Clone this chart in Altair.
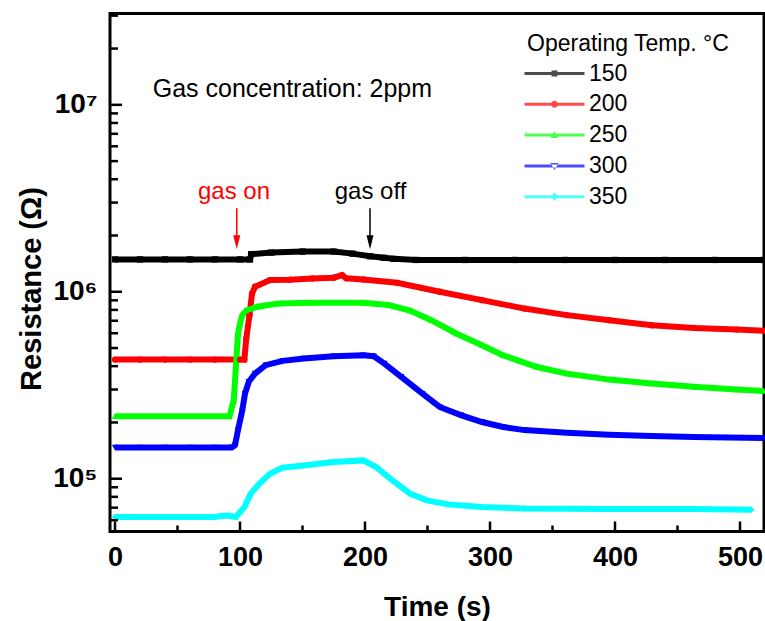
import altair as alt
import pandas as pd

# ---------------- data ----------------
temps = ["150", "200", "250", "300", "350"]
colors = ["#000000", "#ff0000", "#00ff00", "#0000ff", "#00ffff"]
shapes = ["square", "circle", "triangle-up", "triangle-down", "diamond"]

t_150 = [0, 20, 40, 60, 80, 100, 108, 109, 125, 150, 175, 190, 204, 215, 223, 241, 280, 320, 360, 400, 440, 480, 519]
r_150 = [1.49e6, 1.49e6, 1.49e6, 1.49e6, 1.49e6, 1.49e6, 1.49e6, 1.59e6, 1.62e6, 1.64e6, 1.64e6, 1.60e6, 1.55e6,
         1.52e6, 1.50e6, 1.48e6, 1.48e6, 1.48e6, 1.48e6, 1.48e6, 1.48e6, 1.48e6, 1.48e6]

t_200 = [0, 20, 40, 60, 80, 100, 103.5, 105, 107.6, 109.6, 112, 124, 140, 158, 175, 181.6, 185, 198.6, 225.7,
         259.7, 293.6, 327.6, 361.5, 395.5, 429.4, 463.3, 497.3, 519]
r_200 = [4.34e5, 4.34e5, 4.34e5, 4.34e5, 4.34e5, 4.34e5, 4.34e5, 5.62e5, 7.5e5, 9.77e5, 1.064e6, 1.155e6, 1.161e6,
         1.178e6, 1.189e6, 1.227e6, 1.18e6, 1.164e6, 1.117e6, 1.0e6, 9.02e5, 8.13e5, 7.5e5, 7.05e5, 6.62e5, 6.41e5,
         6.28e5, 6.18e5]

t_250 = [0, 20, 40, 60, 80, 91.6, 95, 96.7, 98.4, 100, 101.8, 105, 113.7, 130.7, 158, 198.6, 219, 236, 253, 273,
         293.6, 310.6, 337.7, 361.5, 395.5, 429.4, 463, 497, 519]
r_250 = [2.16e5, 2.16e5, 2.16e5, 2.16e5, 2.16e5, 2.16e5, 2.63e5, 3.96e5, 5.98e5, 6.76e5, 7.5e5, 7.94e5, 8.32e5,
         8.66e5, 8.73e5, 8.73e5, 8.49e5, 7.94e5, 7.05e5, 5.98e5, 5.18e5, 4.57e5, 3.96e5, 3.65e5, 3.39e5, 3.23e5,
         3.1e5, 3.0e5, 2.95e5]

t_300 = [0, 20, 40, 60, 80, 93.4, 96, 98.4, 101.8, 104, 107, 112, 120.5, 134, 151, 174.8, 198.6, 207, 215.5, 229,
         246, 259.7, 276.6, 293.6, 310.6, 327.6, 361.5, 395.5, 429, 463, 519]
r_300 = [1.47e5, 1.47e5, 1.47e5, 1.47e5, 1.47e5, 1.47e5, 1.51e5, 1.82e5, 2.32e5, 2.85e5, 3.3e5, 3.65e5, 4.05e5,
         4.27e5, 4.4e5, 4.52e5, 4.57e5, 4.52e5, 4.13e5, 3.51e5, 2.85e5, 2.42e5, 2.19e5, 2.01e5, 1.89e5, 1.82e5,
         1.76e5, 1.72e5, 1.69e5, 1.67e5, 1.65e5]

t_350 = [0, 20, 40, 60, 80, 85, 90, 96.7, 103.5, 108.6, 115.4, 124, 134, 151, 174.8, 198.6, 208.8, 222, 236, 249.5,
         266.5, 293.6, 327.6, 395.5, 463, 509]
r_350 = [6.24e4, 6.24e4, 6.24e4, 6.24e4, 6.24e4, 6.31e4, 6.35e4, 6.24e4, 7.05e4, 8.32e4, 9.4e4, 1.064e5, 1.146e5,
         1.178e5, 1.227e5, 1.253e5, 1.155e5, 9.8e4, 8.32e4, 7.66e4, 7.29e4, 7.05e4, 6.93e4, 6.89e4, 6.89e4, 6.82e4]

x_major = [0, 100, 200, 300, 400, 500]
x_minor = [50, 150, 250, 350, 450]
y_major = [1e5, 1e6, 1e7]
y_minor = [6e4, 7e4, 8e4, 9e4, 2e5, 3e5, 4e5, 5e5, 6e5, 7e5, 8e5, 9e5,
           2e6, 3e6, 4e6, 5e6, 6e6, 7e6, 8e6, 9e6, 2e7, 3e7]

ann_text = ["Gas concentration: 2ppm", "gas on", "gas off"]
ann_t = [30.2, 95.2, 204.4]
ann_R = [1.104e7, 3.13e6, 3.13e6]
ann_color = ["black", "red", "black"]

arr_t = [97.4, 204.0]
arr_top = [2.8e6, 2.8e6]
arr_head = [1.84e6, 1.84e6]
arr_color = ["red", "black"]

# ---------------- tables ----------------
series = {"150": (t_150, r_150), "200": (t_200, r_200), "250": (t_250, r_250),
          "300": (t_300, r_300), "350": (t_350, r_350)}
rows = []
for name in temps:
    ts, rs = series[name]
    for t, r in zip(ts, rs):
        rows.append({"T": name, "t": t, "R": r})
df = pd.DataFrame(rows)

ann_df = pd.DataFrame({"text": ann_text, "t": ann_t, "R": ann_R, "c": ann_color})
arr_df = pd.DataFrame({"t": arr_t, "top": arr_top, "head": arr_head, "c": arr_color})
xt_major = pd.DataFrame({"t": x_major})
xt_minor = pd.DataFrame({"t": x_minor})
yt_major = pd.DataFrame({"R": y_major})
yt_minor = pd.DataFrame({"R": y_minor})

FONT = "Liberation Sans"
W, H = 654, 518

xs = alt.Scale(domain=[-4, 519.2], nice=False, zero=False)
ys = alt.Scale(type="log", domain=[5.22e4, 3.08e7], nice=False)


def X(axis=None, field="t:Q"):
    return alt.X(field, scale=xs, axis=axis)


def Y(axis=None, field="R:Q"):
    return alt.Y(field, scale=ys, axis=axis)


layers = []

# axis with labels + titles (first layer)
axis_x_lab = alt.Axis(orient="bottom", values=x_major, ticks=False, tickSize=0, domain=False, grid=False,
                      labelFont=FONT, labelFontSize=27, labelFontWeight="bold", labelColor="black",
                      labelBaseline="alphabetic", labelPadding=33.5, labelFlush=False, labelOverlap=False,
                      title="Time (s)", titleFont=FONT, titleFontSize=28, titleFontWeight="bold",
                      titleColor="black", titleBaseline="alphabetic", titleY=83.5)
axis_y_lab = alt.Axis(orient="left", values=y_major, ticks=False, tickSize=0, domain=False, grid=False,
                      labelExpr="datum.value > 5e6 ? '10⁷' : (datum.value > 5e5 ? '10⁶' : '10⁵')",
                      labelFont=FONT, labelFontSize=28, labelFontWeight="bold", labelColor="black",
                      labelPadding=13, labelFlush=False, labelOverlap=False,
                      title="Resistance (Ω)", titleFont=FONT, titleFontSize=29, titleFontWeight="bold",
                      titleColor="black", titleAngle=270, titleBaseline="alphabetic", titleAlign="center",
                      titleX=-70, titleY=275)
layers.append(alt.Chart(df).transform_filter("false").mark_point().encode(x=X(axis_x_lab), y=Y(axis_y_lab)))

# series lines and markers
for name, col, shp in zip(temps, colors, shapes):
    base = alt.Chart(df).transform_filter(alt.datum.T == name)
    layers.append(base.mark_line(color=col, strokeWidth=6).encode(x=X(), y=Y(), order="t:Q"))
for name, col, shp in zip(temps, colors, shapes):
    base = alt.Chart(df).transform_filter(alt.datum.T == name)
    layers.append(base.mark_point(color=col, shape=shp, filled=True, size=40, opacity=1).encode(x=X(), y=Y()))

# inward ticks drawn from the tick-value lists through the scales
layers.append(alt.Chart(xt_major).mark_rule(color="black", strokeWidth=2.5).encode(
    x=X(), y=alt.value(H), y2=alt.value(H - 10)))
layers.append(alt.Chart(xt_minor).mark_rule(color="black", strokeWidth=2.5).encode(
    x=X(), y=alt.value(H), y2=alt.value(H - 6)))
layers.append(alt.Chart(yt_major).mark_rule(color="black", strokeWidth=2.5).encode(
    y=Y(), x=alt.value(0), x2=alt.value(12)))
layers.append(alt.Chart(yt_minor).mark_rule(color="black", strokeWidth=2.5).encode(
    y=Y(), x=alt.value(0), x2=alt.value(8)))

# legend (line + marker symbols)
leg_paths = [
    "M-1.4,-0.15H4.6V0.15H-1.4Z M1.3,-0.3H1.9V0.3H1.3Z",
    "M-1.4,-0.15H4.6V0.15H-1.4Z M1.95,0A0.35,0.35 0 1,1 1.25,0A0.35,0.35 0 1,1 1.95,0Z",
    "M-1.4,-0.15H4.6V0.15H-1.4Z M1.6,-0.42L2.0,0.3H1.2Z",
    "M-1.4,-0.15H4.6V0.15H-1.4Z M1.6,0.42L2.0,-0.3H1.2Z",
    "M-1.4,-0.15H4.6V0.15H-1.4Z M1.6,-0.42L1.95,0L1.6,0.42L1.25,0Z",
]
leg = dict(orient="none", legendX=417, legendY=19.5, title="Operating Temp. °C", titleFont=FONT,
           titleFontSize=23, titleFontWeight="normal", titleColor="black", titlePadding=6, titleLimit=400,
           labelFont=FONT, labelFontSize=23, labelColor="black", labelOffset=39, symbolSize=400,
           symbolStrokeWidth=0, rowPadding=6.8, padding=0)
layers.append(
    alt.Chart(df).transform_filter("false").mark_point(filled=True).encode(
        x=X(), y=Y(),
        color=alt.Color("T:N", scale=alt.Scale(domain=temps, range=colors), legend=alt.Legend(**leg)),
        shape=alt.Shape("T:N", scale=alt.Scale(domain=temps, range=leg_paths), legend=alt.Legend(**leg)),
    )
)

# annotations
layers.append(
    alt.Chart(ann_df).transform_filter(alt.datum.text == ann_text[0]).mark_text(
        align="left", baseline="alphabetic", font=FONT, fontSize=25).encode(
        x=X(), y=Y(), text="text:N", color=alt.Color("c:N", scale=None))
)
layers.append(
    alt.Chart(ann_df).transform_filter(alt.datum.text != ann_text[0]).mark_text(
        align="center", baseline="alphabetic", font=FONT, fontSize=24).encode(
        x=X(), y=Y(), text="text:N", color=alt.Color("c:N", scale=None))
)
layers.append(
    alt.Chart(arr_df).mark_rule(strokeWidth=1.5).encode(
        x=X(), y=Y(field="top:Q"), y2="head:Q", color=alt.Color("c:N", scale=None))
)
layers.append(
    alt.Chart(arr_df).mark_point(shape="M-0.5,-1L0.5,-1L0,1Z", filled=True, size=196, opacity=1,
                                 strokeWidth=0).encode(
        x=X(), y=Y(field="head:Q"), color=alt.Color("c:N", scale=None))
)

chart = (
    alt.layer(*layers)
    .resolve_axis(x="independent", y="independent")
    .properties(width=W, height=H, autosize=alt.AutoSizeParams(type="none"),
                padding={"left": 110, "top": 13.5, "right": 1, "bottom": 89.5}, background="white")
    .configure_view(stroke="black", strokeWidth=3)
    .configure_axis(grid=False)
)

chart.save("out.html", embed_options={"renderer": "svg", "actions": False})
